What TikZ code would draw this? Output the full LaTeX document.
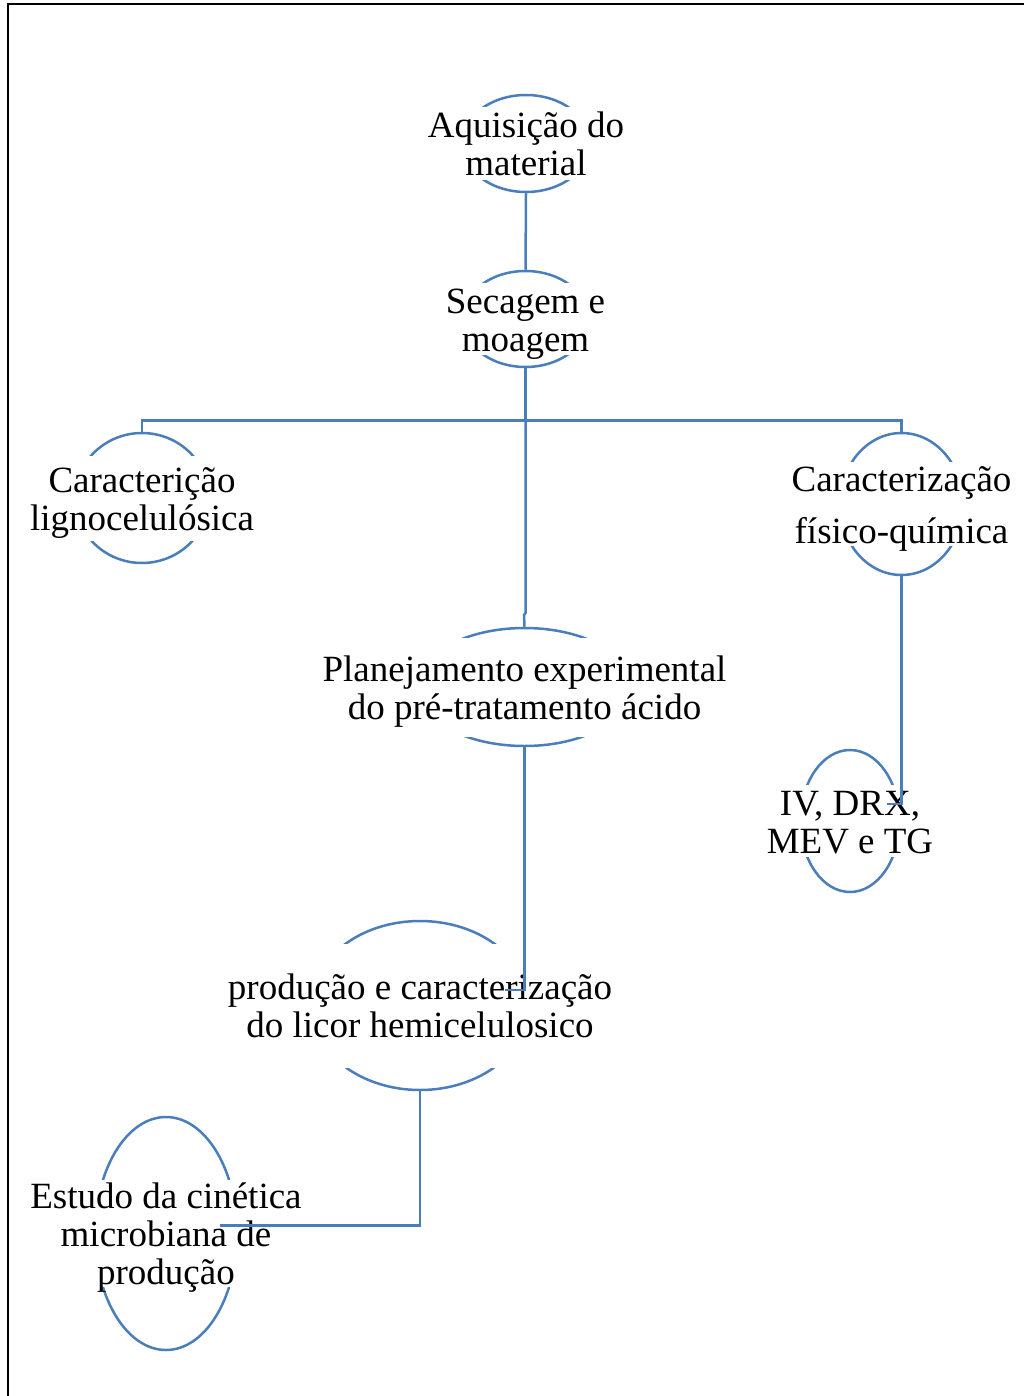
\documentclass[tikz,border=0pt]{standalone}
\usepackage{fontspec}
\setmainfont{Liberation Serif}
\usetikzlibrary{shapes.geometric}
\definecolor{lineblue}{HTML}{4A7EBB}
\newcommand\lnstrut{\rule[-9pt]{0pt}{38pt}}
\tikzset{
  ell/.style={ellipse, draw=lineblue, line width=2.5pt, inner sep=0pt},
  cover/.style={rectangle, fill=white, draw=none, inner sep=0pt},
  txt/.style={align=center, inner sep=0pt, yshift=-3pt, font=\fontsize{37}{38}\selectfont},
  conn/.style={draw=lineblue, line width=2.5pt},
  frame/.style={draw=black, line width=2pt}
}
\begin{document}
\begin{tikzpicture}[x=1pt, y=-1pt]
\useasboundingbox (0,0) rectangle (1024,1396);
\draw[frame] (7.5,1396) -- (7.5,4.5) -- (1024,4.5);

% ellipses
\node[ell, minimum width=128pt, minimum height=97pt]  (aq)   at (526,143.5) {};
\node[ell, minimum width=126pt, minimum height=96pt]  (sec)  at (525.5,319) {};
\node[ell, minimum width=134pt, minimum height=130pt] (car)  at (142,498) {};
\node[ell, minimum width=123pt, minimum height=142pt] (cfq)  at (901.5,504) {};
\node[ell, minimum width=215pt, minimum height=118pt] (plan) at (524.5,687) {};
\node[ell, minimum width=218pt, minimum height=169pt] (prod) at (420,1005.5) {};
\node[ell, minimum width=142pt, minimum height=233pt] (est)  at (166,1233.5) {};
\node[ell, minimum width=99pt,  minimum height=142pt] (iv)   at (850,821) {};

% covers hiding the sides of the ellipses
\node[cover, minimum width=140pt, minimum height=73pt]  (aqC)   at (aq.center) {};
\node[cover, minimum width=138pt, minimum height=71pt]  (secC)  at (sec.center) {};
\node[cover, minimum width=146pt, minimum height=85pt]  (carC)  at (car.center) {};
\node[cover, minimum width=135pt, minimum height=84pt]  (cfqC)  at (cfq.center) {};
\node[cover, minimum width=227pt, minimum height=99pt]  (planC) at (plan.center) {};
\node[cover, minimum width=230pt, minimum height=124pt] (prodC) at (prod.center) {};
\node[cover, minimum width=154pt, minimum height=107pt] (estC)  at (est.center) {};
\node[cover, minimum width=111pt, minimum height=72pt]  (ivC)   at (iv.center) {};

% texts
\node[txt] (aqT)   at (aq.center)   {\lnstrut Aquisição do\\\lnstrut material};
\node[txt] (secT)  at (sec.center)  {\lnstrut Secagem e\\\lnstrut moagem};
\node[txt] (carT)  at (car.center)  {\lnstrut Caracterição\\\lnstrut lignocelulósica};
\node[txt, font=\fontsize{37}{52}\selectfont] (cfqT) at (cfq.center) {\lnstrut Caracterização\\\lnstrut físico-química};
\node[txt] (planT) at (plan.center) {\lnstrut Planejamento experimental\\\lnstrut do pré-tratamento ácido};
\node[txt] (prodT) at (prod.center) {\lnstrut produção e caracterização\\\lnstrut do licor hemicelulosico};
\node[txt] (estT)  at (est.center)  {\lnstrut Estudo da cinética\\\lnstrut microbiana de\\\lnstrut produção};
\node[txt] (ivT)   at (iv.center)   {\lnstrut IV, DRX,\\\lnstrut MEV e TG};

% free ends
\coordinate (jog)  at (525.5,613);
\coordinate (pe)   at (505,990);
\coordinate (ce)   at (887,804);
\coordinate (pr)   at (220,1225.5);

% connectors
\draw[conn] (aq.south) -- (sec.north);
\draw[conn] (sec.south) -- ++(0,52) -| (car.north);
\draw[conn] (sec.south) -- ++(0,52) -| (cfq.north);
\draw[conn] (sec.south) -- (jog) -- ++(-1.5,2) -- (plan.north);
\draw[conn] (plan.south) |- (pe);
\draw[conn] (cfq.south) |- (ce);
\draw[conn] (prod.south) |- (pr);
\end{tikzpicture}
\end{document}
